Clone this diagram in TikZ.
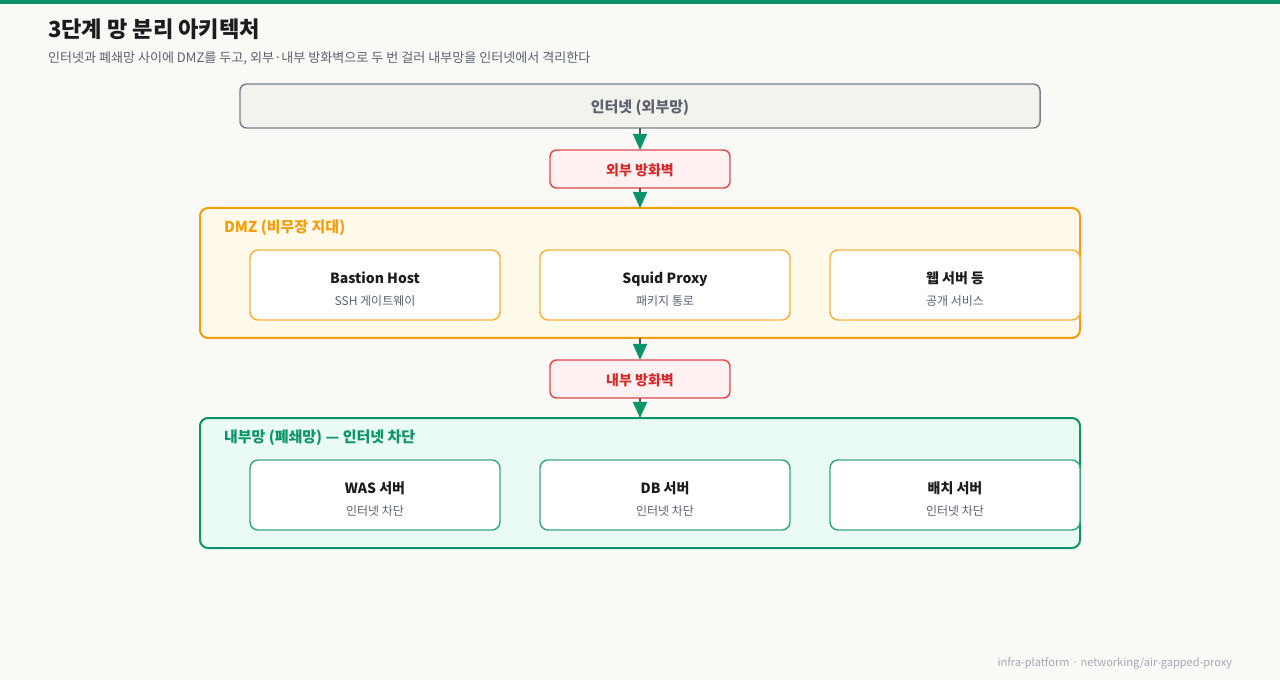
\documentclass[tikz,border=0pt]{standalone}
\usepackage{fontspec}
\setmainfont{Noto Sans CJK KR}
\usetikzlibrary{positioning,arrows.meta}

\definecolor{pagebg}{HTML}{F9F9F6}
\definecolor{topbar}{HTML}{0A9467}
\definecolor{inkdark}{HTML}{1C1C1E}
\definecolor{inkgrey}{HTML}{5B6270}
\definecolor{inkfoot}{HTML}{A3A8B4}
\definecolor{netfill}{HTML}{F3F3EE}
\definecolor{netline}{HTML}{7B808C}
\definecolor{fwfill}{HTML}{FFF1F1}
\definecolor{fwline}{HTML}{E0484B}
\definecolor{fwtext}{HTML}{D42A2A}
\definecolor{dmzfill}{HTML}{FFFAEA}
\definecolor{dmzline}{HTML}{F59E0B}
\definecolor{dmzbox}{HTML}{F8B23C}
\definecolor{intfill}{HTML}{EAFBF3}
\definecolor{intline}{HTML}{0A9467}
\definecolor{intbox}{HTML}{3AA87E}
\definecolor{arrowline}{HTML}{4F5866}

\begin{document}
\begin{tikzpicture}[
x=0.75pt, y=-0.75pt,
every node/.style={inner sep=0pt, outer sep=0pt, align=center, text height=1.03em, text depth=0pt},
zonebox/.style={draw, line width=1.5pt, rounded corners=6pt, anchor=north west},
wallbox/.style={draw=fwline, fill=fwfill, line width=1.1pt, rounded corners=5pt,
  minimum width=135pt, minimum height=28.5pt, text=fwtext, font=\bfseries\fontsize{10.5}{12}\selectfont},
hostbox/.style={draw, fill=white, line width=1.1pt, rounded corners=6pt,
  minimum width=187.5pt, minimum height=52.5pt},
dmzhost/.style={hostbox, draw=dmzbox},
inthost/.style={hostbox, draw=intbox},
hosttitle/.style={text=inkdark, font=\bfseries\fontsize{10.5}{12}\selectfont},
hostsub/.style={text=inkgrey, font=\fontsize{9}{11}\selectfont},
zonelabel/.style={anchor=west, font=\bfseries\fontsize{11.25}{13}\selectfont},
flow/.style={draw=arrowline, line width=1.1pt, -{Triangle[color=topbar,length=12pt,width=10.5pt]}}
]

% page
\fill[pagebg] (0,0) rectangle (1280,680);
\useasboundingbox (0,0) rectangle (1280,680);
\fill[topbar] (0,0) rectangle (1280,4);

% heading
\node (title) [anchor=base west, text=inkdark, font=\bfseries\fontsize{16.6}{19}\selectfont]
  at (48,38) {3단계 망 분리 아키텍처};
\node (subtitle) [anchor=base west, text=inkgrey, font=\fontsize{9.8}{11}\selectfont]
  at (48,62.5) {인터넷과 폐쇄망 사이에 DMZ를 두고, 외부·내부 방화벽으로 두 번 걸러 내부망을 인터넷에서 격리한다};

% internet
\node (internet) [draw=netline, fill=netfill, line width=1.1pt, rounded corners=5pt,
  minimum width=600pt, minimum height=33pt, text=inkgrey,
  font=\bfseries\fontsize{11.25}{13}\selectfont] at (640,106) {인터넷 (외부망)};

\node (extwall) [wallbox] at (640,169) {외부 방화벽};

% DMZ
\node (dmz) [zonebox, draw=dmzline, fill=dmzfill, minimum width=660pt, minimum height=97.5pt]
  at (200,208) {};
\node (dmzlabel) [zonelabel, text=dmzline] at (224,226) {DMZ (비무장 지대)};

\node (bastion) [dmzhost] at (375,285) {};
\node (bastiontitle) [hosttitle] at (375,277) {Bastion Host};
\node (bastionsub) [hostsub] at (375,299) {SSH 게이트웨이};

\node (squid) [dmzhost] at (665,285) {};
\node (squidtitle) [hosttitle] at (665,277) {Squid Proxy};
\node (squidsub) [hostsub] at (665,299) {패키지 통로};

\node (web) [dmzhost] at (955,285) {};
\node (webtitle) [hosttitle] at (955,277) {웹 서버 등};
\node (websub) [hostsub] at (955,299) {공개 서비스};

\node (intwall) [wallbox] at (640,379) {내부 방화벽};

% internal network
\node (internal) [zonebox, draw=intline, fill=intfill, minimum width=660pt, minimum height=97.5pt]
  at (200,418) {};
\node (intlabel) [zonelabel, text=intline] at (224,436) {내부망 (폐쇄망) — 인터넷 차단};

\node (was) [inthost] at (375,495) {};
\node (wastitle) [hosttitle] at (375,487) {WAS 서버};
\node (wassub) [hostsub] at (375,509) {인터넷 차단};

\node (db) [inthost] at (665,495) {};
\node (dbtitle) [hosttitle] at (665,487) {DB 서버};
\node (dbsub) [hostsub] at (665,509) {인터넷 차단};

\node (batch) [inthost] at (955,495) {};
\node (batchtitle) [hosttitle] at (955,487) {배치 서버};
\node (batchsub) [hostsub] at (955,509) {인터넷 차단};

% connectors
\draw[flow] (internet) -- (extwall);
\draw[flow] (extwall) -- (extwall |- dmz.north);
\draw[flow] (extwall |- dmz.south) -- (intwall);
\draw[flow] (intwall) -- (intwall |- internal.north);

% footer
\node (footer) [anchor=base east, text=inkfoot, font=\fontsize{8.25}{10}\selectfont]
  at (1232,666) {infra-platform · networking/air-gapped-proxy};
\end{tikzpicture}
\end{document}
